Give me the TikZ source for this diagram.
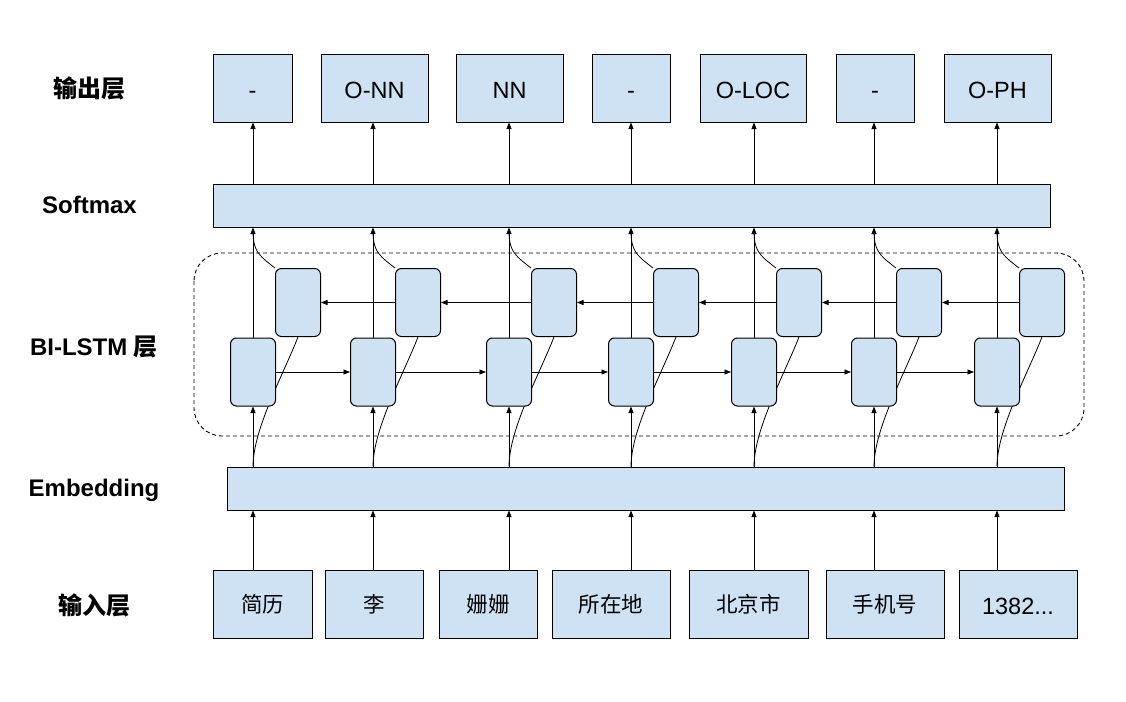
\documentclass[tikz,border=0pt]{standalone}
\usepackage{fontspec}
\setmainfont{Liberation Sans}
\newfontfamily\cjk{Noto Sans CJK SC}
\usetikzlibrary{arrows.meta,backgrounds}
\definecolor{boxblue}{RGB}{207,226,243}
\begin{document}
\begin{tikzpicture}[x=1pt,y=-1pt,
  box/.style={draw=black, fill=boxblue, line width=1pt, inner sep=0pt, minimum height=67pt, text height=20pt, text depth=0pt, font=\fontsize{23.5}{27}\selectfont},
  bar/.style={draw=black, fill=boxblue, line width=1pt, inner sep=0pt, minimum width=837pt, minimum height=43pt},
  cell/.style={draw=black, fill=boxblue, line width=1pt, rounded corners=6pt, minimum width=45pt, minimum height=68pt, inner sep=0pt},
  arr/.style={-{Triangle[length=6.5pt,width=5pt]}, line width=0.8pt},
  link/.style={line width=0.8pt},
  lab/.style={font=\fontsize{24}{28}\selectfont\bfseries},
  cn/.style={font=\cjk\fontsize{21.5}{25}\selectfont, text height=17pt, text depth=1pt}
]
\useasboundingbox (0,0) rectangle (1126,701);

% column coordinates
\foreach \i/\x in {1/253,2/373,3/509,4/631,5/754,6/874,7/997}
  \coordinate (c\i) at (\x,0);

% labels
\node[lab] (L1) at (89,88) {\cjk\bfseries 输出层};
\node[lab] (L2) at (89.5,205) {Softmax};
\node[lab] (L3) at (94,347) {BI-LSTM {\cjk\bfseries 层}};
\node[lab] (L4) at (94,490) {Embedding};
\node[lab] (L5) at (94,605) {\cjk\bfseries 输入层};

% output layer
\node[box, minimum width=79pt]  (o1) at (252.5,88.5) {-};
\node[box, minimum width=107pt] (o2) at (374.5,88.5) {O-NN};
\node[box, minimum width=107pt] (o3) at (509.5,88.5) {NN};
\node[box, minimum width=78pt]  (o4) at (631,88.5) {-};
\node[box, minimum width=106pt] (o5) at (753,88.5) {O-LOC};
\node[box, minimum width=78pt]  (o6) at (875,88.5) {-};
\node[box, minimum width=107pt] (o7) at (997.5,88.5) {O-PH};

% bars
\node[bar] (soft) at (631.5,205.5) {};
\node[bar] (emb) at (645.5,488.5) {};

% input layer
\node[box, cn, minimum height=68pt, minimum width=99pt]  (i1) at (262.5,604) {简历};
\node[box, cn, minimum height=68pt, minimum width=98pt]  (i2) at (374,604) {李};
\node[box, cn, minimum height=68pt, minimum width=98pt]  (i3) at (488,604) {姗姗};
\node[box, cn, minimum height=68pt, minimum width=118pt] (i4) at (611,604) {所在地};
\node[box, cn, minimum height=68pt, minimum width=119pt] (i5) at (748.5,604) {北京市};
\node[box, cn, minimum height=68pt, minimum width=118pt] (i6) at (885,604) {手机号};
\node[box, minimum height=68pt, minimum width=118pt] (i7) at (1018,604) {1382...};

% LSTM cells
\foreach \i/\x in {1/253,2/373,3/509,4/631,5/754,6/874,7/997}{
  \node[cell] (f\i) at (\x,372) {};
  \node[cell] (b\i) at (\x+45,302.5) {};
}

\begin{scope}[on background layer]
  \fill[white] (0,0) rectangle (1126,701);
  % dashed container
  \draw[line width=0.9pt, dash pattern=on 4pt off 3pt, rounded corners=28pt, draw=black]
    (194,253) rectangle (1084,436);
  \foreach \i in {1,...,7}{
    \draw[arr] (soft.north -| c\i) -- (o\i.south -| c\i);
    \draw[arr] (i\i.north -| c\i) -- (emb.south -| c\i);
    \draw[arr] (emb.north -| c\i) -- (f\i.south);
    \draw[arr] (f\i.north) -- (soft.south -| c\i);
    \draw[link] (emb.north -| c\i) .. controls +(0,-37) and +(-15,38) .. (b\i.south);
    \draw[link] (b\i.north west) .. controls +(-17,-13) and +(0,20) .. ([yshift=-3pt]soft.south -| c\i);
  }
  \foreach \i/\j in {1/2,2/3,3/4,4/5,5/6,6/7}{
    \draw[arr] (f\i.east) -- (f\j.west);
    \draw[arr] (b\j.west) -- (b\i.east);
  }
\end{scope}
\end{tikzpicture}
\end{document}
